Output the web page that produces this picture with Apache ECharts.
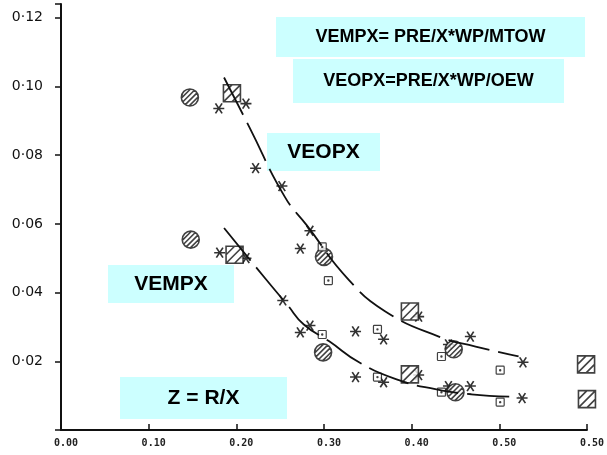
<!DOCTYPE html>
<html>
<head>
<meta charset="utf-8">
<script src="https://cdn.jsdelivr.net/npm/echarts@6/dist/echarts.min.js"></script>
<style>
  html, body { margin: 0; padding: 0; background: #fff; }
  #chart { width: 607px; height: 455px; }
</style>
</head>
<body>
<div id="chart"></div>
<script>
// tick labels as printed on the scan (last x label really reads 0.50)
const xTickLabels = ['0.00', '0.10', '0.20', '0.30', '0.40', '0.50', '0.50']
const yTickLabels = ['', '0·02', '0·04', '0·06', '0·08', '0·10', '0·12']

// [Z, value]
const asteriskPts = [
    [0.180, 0.0936], [0.211, 0.0950], [0.222, 0.0762], [0.252, 0.0710],
    [0.284, 0.0580], [0.273, 0.0528], [0.408, 0.0330], [0.442, 0.0249],
    [0.467, 0.0272], [0.527, 0.0197],
    [0.181, 0.0516], [0.211, 0.0500], [0.253, 0.0377], [0.284, 0.0304],
    [0.273, 0.0284], [0.336, 0.0287], [0.368, 0.0264], [0.336, 0.0154],
    [0.368, 0.0139], [0.408, 0.0160], [0.442, 0.0128], [0.467, 0.0128],
    [0.526, 0.0093]
]
const circlePts = [
    [0.147, 0.0968], [0.148, 0.0554], [0.300, 0.0504],
    [0.299, 0.0226], [0.448, 0.0235], [0.450, 0.0110]
]
const squarePts = [
    [0.195, 0.0980], [0.198, 0.0510], [0.398, 0.0345],
    [0.398, 0.0162], [0.599, 0.0191], [0.600, 0.0090]
]
const dotSquarePts = [
    [0.298, 0.0533], [0.305, 0.0435], [0.298, 0.0278], [0.361, 0.0293],
    [0.361, 0.0154], [0.434, 0.0214], [0.434, 0.0110], [0.501, 0.0174],
    [0.501, 0.0081]
]
// dashed fitted curves
const veopxCurve = [
    [0.186, 0.1026], [0.215, 0.0881], [0.255, 0.0680], [0.280, 0.0597],
    [0.328, 0.0438], [0.370, 0.0345], [0.431, 0.0272], [0.473, 0.0243],
    [0.522, 0.0214]
]
const vempxCurve = [
    [0.186, 0.0588], [0.234, 0.0438], [0.258, 0.0365], [0.277, 0.0307],
    [0.306, 0.0258], [0.340, 0.0197], [0.382, 0.0148], [0.427, 0.0119],
    [0.468, 0.0104], [0.522, 0.0096]
]

const noteTexts = ['VEMPX= PRE/X*WP/MTOW', 'VEOPX=PRE/X*WP/OEW', 'VEOPX', 'VEMPX', 'Z = R/X']

/**
 * 符号路径
 */
function hatchCircle() {
    let p = 'M10,0 A10,10 0 1,1 -10,0 A10,10 0 1,1 10,0 Z'
    let s = Math.SQRT1_2
    for (let d of [-6.5, -2.2, 2.2, 6.5]) {
        let h = Math.sqrt(100 - d * d)
        let cx = d * s, cy = d * s
        p += ' M' + (cx - h * s).toFixed(2) + ',' + (cy + h * s).toFixed(2) +
             ' L' + (cx + h * s).toFixed(2) + ',' + (cy - h * s).toFixed(2)
    }
    return 'path://' + p
}

function hatchSquare() {
    let p = 'M-10,-10 L10,-10 L10,10 L-10,10 Z'
    p += ' M-10,0 L0,-10 M-10,10 L10,-10 M0,10 L10,0'
    return 'path://' + p
}

const asteriskPath = 'path://M-10,0 L10,0 M-6,-8 L6,8 M-6,8 L6,-8'
const dotSquarePath = 'path://M-8,-10 L8,-10 Q10,-10 10,-8 L10,8 Q10,10 8,10 L-8,10 Q-10,10 -10,8 L-10,-8 Q-10,-10 -8,-10 Z M-1.5,0 A1.5,1.5 0 1,1 1.5,0 A1.5,1.5 0 1,1 -1.5,0 Z'

const strokeOnly = { color: 'rgba(0,0,0,0)', borderColor: '#000', borderWidth: 1.6 }

function noteBox(x, y, w, h, text, size) {
    return {
        type: 'group', left: x, top: y,
        children: [
            { type: 'rect', shape: { x: 0, y: 0, width: w, height: h }, style: { fill: '#ccffff' } },
            {
                type: 'text', x: w / 2, y: h / 2,
                style: {
                    text: text, fill: '#000', align: 'center', verticalAlign: 'middle',
                    font: 'bold ' + size + 'px "Liberation Sans", Arial, sans-serif'
                }
            }
        ]
    }
}

var myChart = echarts.init(document.getElementById('chart'))
myChart.setOption({
    animation: false,
    grid: { left: 61, right: 17, top: 4, bottom: 25 },
    xAxis: {
        type: 'value', min: 0, max: 0.6, interval: 0.1,
        axisLine: { lineStyle: { color: '#111', width: 2 } },
        axisTick: { inside: true, length: 6, lineStyle: { color: '#111', width: 1.5 } },
        splitLine: { show: false },
        axisLabel: {
            margin: 8, color: '#222', padding: [0, 0, 0, 10],
            fontFamily: '"DejaVu Sans Mono", monospace', fontSize: 10, fontWeight: 'bold',
            formatter: v => xTickLabels[Math.round(v * 10)] || ''
        }
    },
    yAxis: {
        type: 'value', min: 0, max: 0.124, interval: 0.02,
        axisLine: { lineStyle: { color: '#111', width: 2 } },
        axisTick: { length: 6, lineStyle: { color: '#111', width: 1.5 } },
        splitLine: { show: false },
        axisLabel: {
            margin: 18, color: '#111',
            fontFamily: '"DejaVu Sans", sans-serif', fontSize: 14,
            formatter: v => {
                let i = Math.round(v / 0.02)
                return Math.abs(v - i * 0.02) < 1e-6 ? (yTickLabels[i] || '') : ''
            }
        }
    },
    series: [
        {
            type: 'line', data: veopxCurve, smooth: true, symbol: 'none',
            lineStyle: { color: '#111', width: 1.8, type: [42, 9] }
        },
        {
            type: 'line', data: vempxCurve, smooth: true, symbol: 'none',
            lineStyle: { color: '#111', width: 1.8, type: [42, 9] }
        },
        { type: 'scatter', data: asteriskPts, symbol: asteriskPath, symbolSize: [11, 10], itemStyle: strokeOnly, clip: false },
        { type: 'scatter', data: circlePts, symbol: hatchCircle(), symbolSize: 17, itemStyle: { color: '#fff', borderColor: '#111', borderWidth: 1.6 }, clip: false },
        { type: 'scatter', data: squarePts, symbol: hatchSquare(), symbolSize: 17, itemStyle: { color: '#fff', borderColor: '#111', borderWidth: 1.6 }, clip: false },
        { type: 'scatter', data: dotSquarePts, symbol: dotSquarePath, symbolSize: 8, itemStyle: { color: '#fff', borderColor: '#111', borderWidth: 1.2 }, clip: false }
    ],
    graphic: [
        noteBox(276, 17, 309, 40, noteTexts[0], 18),
        noteBox(293, 59, 271, 44, noteTexts[1], 18),
        noteBox(267, 133, 113, 38, noteTexts[2], 21),
        noteBox(108, 265, 126, 38, noteTexts[3], 21),
        noteBox(120, 377, 167, 42, noteTexts[4], 21)
    ]
})
</script>
</body>
</html>
